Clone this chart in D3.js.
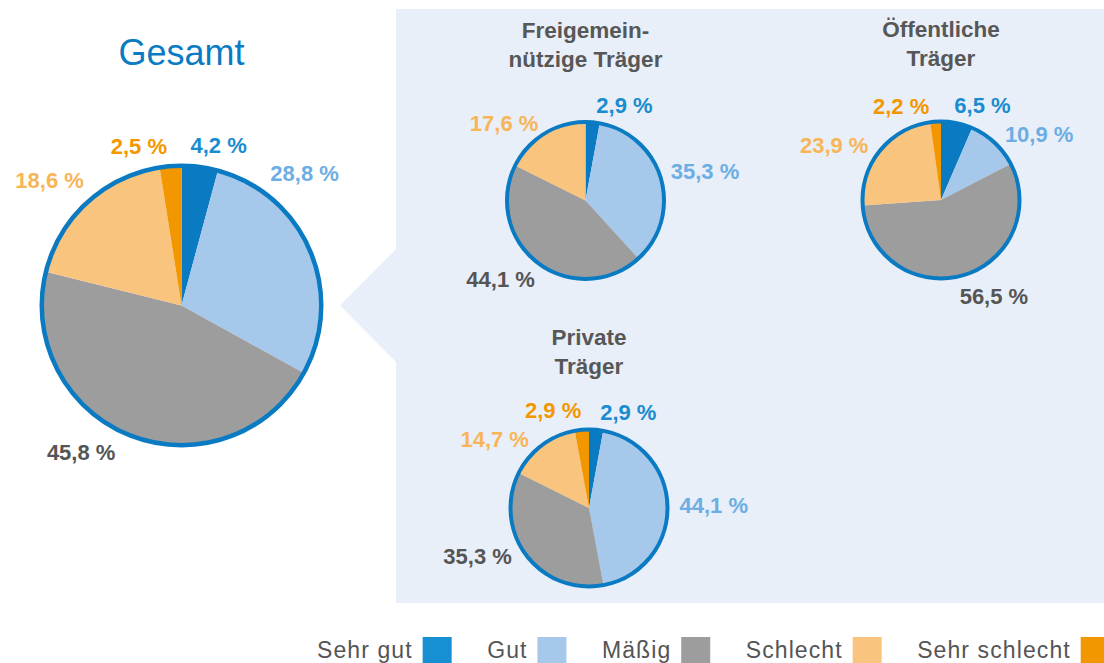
<!DOCTYPE html>
<html lang="de">
<head>
<meta charset="UTF-8">
<title>Zustand nach Trägern</title>
<script src="https://d3js.org/d3.v7.min.js"></script>
<style>
  body { margin: 0; background: #fff; }
  svg { display: block; font-family: "Liberation Sans", Arial, sans-serif; }
</style>
</head>
<body>
<svg id="chart" width="1104" height="663"></svg>
<script>
  // data
  const categories = ["Sehr gut", "Gut", "Mäßig", "Schlecht", "Sehr schlecht"];
  const gesamt      = [4.2, 28.8, 45.8, 18.6, 2.5];
  const freigemein  = [2.9, 35.3, 44.1, 17.6, 0];
  const oeffentlich = [6.5, 10.9, 56.5, 23.9, 2.2];
  const privat      = [2.9, 44.1, 35.3, 14.7, 2.9];

  // colours
  const sliceColor = d3.scaleOrdinal().domain(categories)
    .range(["#0a7bc2", "#a5c8eb", "#9d9d9d", "#f9c47d", "#f39700"]);
  const labelColor = d3.scaleOrdinal().domain(categories)
    .range(["#1a8ccf", "#6caee3", "#555555", "#f8b558", "#f39700"]);
  const legendColor = d3.scaleOrdinal().domain(categories)
    .range(["#1690d2", "#a5c8eb", "#9d9d9d", "#f9c47d", "#f39700"]);
  const ringColor = "#0a7bc2";

  const svg = d3.select("#chart");

  // light panel with pointer towards the big pie
  svg.append("path")
    .attr("d", "M396,9 H1104 V603 H396 V362 L340,305.5 L396,249 Z")
    .attr("fill", "#e8eff9");

  // label tweaks: [angle nudge in degrees, distance as factor of radius]
  const pies = [
    { name: ["Gesamt"], values: gesamt, cx: 181.5, cy: 305.5, r: 142, big: true,
      nudge: [[5.5, 1.155], [-24, 1.27], [13, 1.25], [-4, 1.28], [-10.5, 1.16]] },
    { name: ["Freigemein-", "nützige Träger"], values: freigemein, cx: 585.5, cy: 200.5, r: 80.5,
      nudge: [[17, 1.28], [2, 1.53], [10, 1.44], [-15, 1.39], [0, 1.3]] },
    { name: ["Öffentliche", "Träger"], values: oeffentlich, cx: 941, cy: 200, r: 80.5,
      nudge: [[12, 1.28], [13, 1.47], [-13, 1.37], [-12, 1.49], [-19, 1.27]] },
    { name: ["Private", "Träger"], values: privat, cx: 589, cy: 508, r: 80.5,
      nudge: [[17, 1.29], [-1, 1.55], [13.5, 1.51], [-17, 1.45], [-15, 1.29]] }
  ];

  const pie = d3.pie().sort(null).value(d => d);
  const fmt = v => d3.format(".1f")(v).replace(".", ",") + " %";

  pies.forEach(p => {
    const stroke = p.big ? 4.5 : 4;
    const inner = p.r - stroke / 2;
    const g = svg.append("g").attr("transform", `translate(${p.cx},${p.cy})`);
    const arcs = pie(p.values).map((a, i) => Object.assign(a, { cat: categories[i] }));
    const arc = d3.arc().innerRadius(0).outerRadius(inner);

    g.selectAll("path.slice")
      .data(arcs.filter(a => a.value > 0))
      .join("path")
        .attr("class", "slice")
        .attr("d", arc)
        .attr("fill", d => sliceColor(d.cat));

    g.append("circle")
      .attr("r", inner)
      .attr("fill", "none")
      .attr("stroke", ringColor)
      .attr("stroke-width", stroke);

    // value labels
    const pos = d => {
      const n = p.nudge[d.index];
      const a = (d.startAngle + d.endAngle) / 2 + n[0] * Math.PI / 180;
      return [Math.sin(a) * p.r * n[1], -Math.cos(a) * p.r * n[1]];
    };
    g.selectAll("text.val")
      .data(arcs.filter(a => a.value > 0))
      .join("text")
        .attr("class", "val")
        .attr("text-anchor", "middle")
        .attr("dy", "0.35em")
        .attr("font-size", 22)
        .attr("font-weight", "bold")
        .attr("fill", d => labelColor(d.cat))
        .attr("x", d => pos(d)[0])
        .attr("y", d => pos(d)[1])
        .text(d => fmt(d.value));

    // titles
    if (p.big) {
      svg.append("text")
        .attr("x", p.cx).attr("y", 65)
        .attr("text-anchor", "middle")
        .attr("font-size", 36)
        .attr("fill", ringColor)
        .text(p.name[0]);
    } else {
      const t = svg.append("text")
        .attr("text-anchor", "middle")
        .attr("font-size", 22.5)
        .attr("font-weight", "bold")
        .attr("fill", "#575757");
      p.name.forEach((line, i) => {
        t.append("tspan")
          .attr("x", p.cx)
          .attr("y", p.cy - 163 + i * 29)
          .text(line);
      });
    }
  });

  // legend
  const legend = svg.append("g");
  let lx = 317;
  categories.forEach(c => {
    const t = legend.append("text")
      .attr("x", lx).attr("y", 658)
      .attr("font-size", 23)
      .attr("letter-spacing", 1.1)
      .attr("fill", "#555555")
      .text(c);
    const w = t.node().getComputedTextLength() - 1.1;
    legend.append("rect")
      .attr("x", lx + w + 11).attr("y", 637)
      .attr("width", 29).attr("height", 27)
      .attr("fill", legendColor(c));
    lx += w + 11 + 29 + 35.5;
  });
</script>
</body>
</html>
